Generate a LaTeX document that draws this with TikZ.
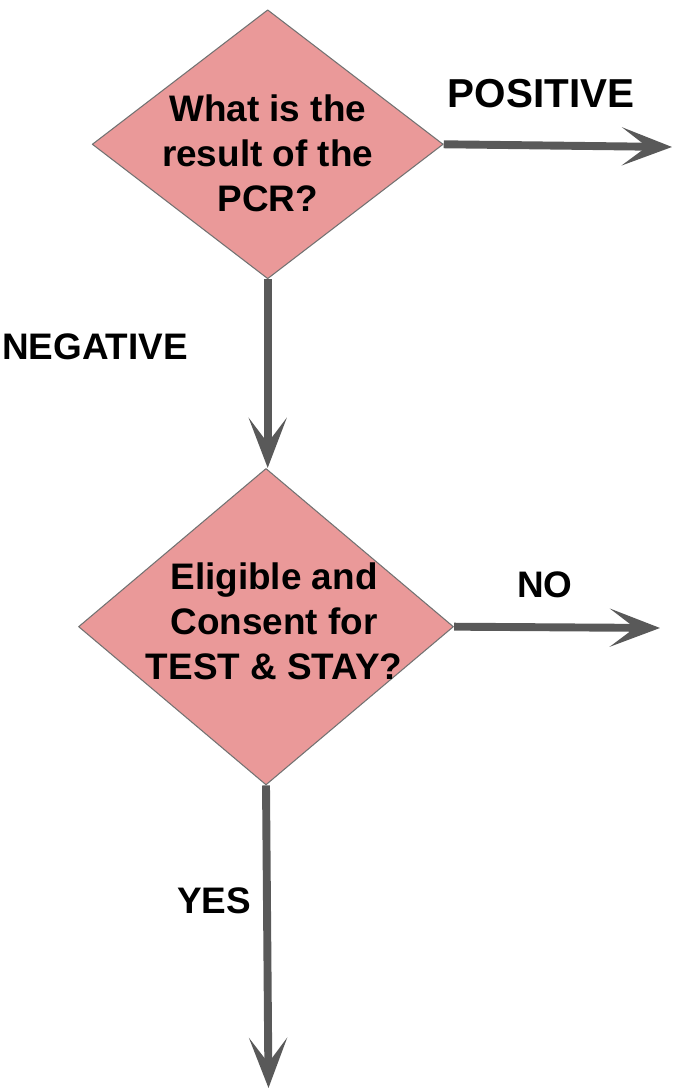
\documentclass[tikz,border=0pt]{standalone}
\usepackage{fontspec}
\setmainfont{Liberation Sans}
\usetikzlibrary{shapes.geometric,arrows.meta}
\definecolor{hong}{HTML}{EA9999}
\definecolor{xam}{HTML}{595959}
\begin{document}
\begin{tikzpicture}[line join=round,line cap=butt,
	hoi/.style={diamond,draw=xam!85,line width=0.6pt,fill=hong,inner sep=0pt},
	chu/.style={font=\fontsize{21}{25.6}\selectfont\bfseries,align=center,inner sep=0pt},
	muiten/.style={draw=xam,line width=4.5pt,-{Stealth[length=1cm,width=0.76cm,inset=0.5cm]}}]
	%PCR - Test & Stay.
	\useasboundingbox (0,0) rectangle (13.46,21.8);
	\node[hoi,minimum width=7.02cm,minimum height=5.38cm] (pcr) at (5.354,18.914) {};
	\node[hoi,minimum width=7.5cm,minimum height=6.33cm] (stay) at (5.32,9.266) {};
	\node[chu] (q1) at ([yshift=-0.18cm]pcr.center) {What is the\\result of the\\PCR?};
	\node[chu] (q2) at ([xshift=0.16cm,yshift=0.1cm]stay.center) {Eligible and\\Consent for\\TEST \& STAY?};
	\coordinate (duong) at (13.44,18.86);
	\coordinate (khong) at (13.2,9.24);
	\coordinate (co) at (5.37,0.04);
	\draw[muiten] (pcr.east)--(duong);
	\draw[muiten] (pcr.south)--(pcr.south|-stay.north);
	\draw[muiten] (stay.east)--(khong);
	\draw[muiten] (stay.south)--(co);
	\foreach \t/\x/\y/\c in {POSITIVE/10.82/19.64/23,NEGATIVE/1.9/14.6/21,NO/10.9/9.84/21,YES/4.28/3.534/21}
	\node[chu,font=\fontsize{\c}{\c}\selectfont\bfseries,anchor=base] (\t) at (\x,\y) {\t};
\end{tikzpicture}
\end{document}
